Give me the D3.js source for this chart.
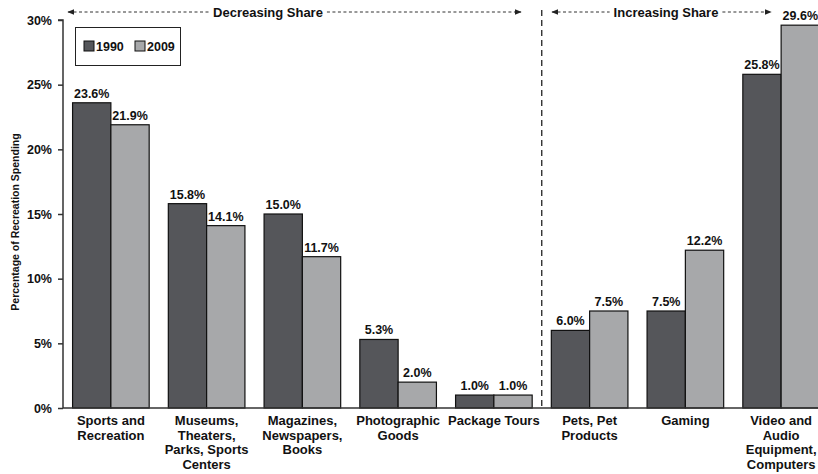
<!DOCTYPE html>
<html>
<head>
<meta charset="utf-8">
<script src="https://cdn.jsdelivr.net/npm/d3@7/dist/d3.min.js"></script>
<style>
  html, body { margin: 0; padding: 0; background: #fff; }
  svg { display: block; font-family: "Liberation Sans", Arial, sans-serif; font-weight: bold; }
</style>
</head>
<body>
<svg id="chart" width="818" height="474"></svg>
<script>
// Share of recreation spending by category
const categories = [
  ["Sports and", "Recreation"],
  ["Museums,", "Theaters,", "Parks, Sports", "Centers"],
  ["Magazines,", "Newspapers,", "Books"],
  ["Photographic", "Goods"],
  ["Package Tours"],
  ["Pets, Pet", "Products"],
  ["Gaming"],
  ["Video and", "Audio", "Equipment,", "Computers"]
];
const years = ["1990", "2009"];
const values1990 = [23.6, 15.8, 15.0, 5.3, 1.0, 6.0, 7.5, 25.8];
const values2009 = [21.9, 14.1, 11.7, 2.0, 1.0, 7.5, 12.2, 29.6];
const yTicks = [0, 5, 10, 15, 20, 25, 30];
const yLabel = "Percentage of Recreation Spending";
const groupLabels = ["Decreasing Share", "Increasing Share"];

const colors = { "1990": "#55565a", "2009": "#a7a8aa" };

const svg = d3.select("#chart");
const plotLeft = 63, plotRight = 829, plotTop = 20, plotBottom = 408;

const keys = categories.map(c => c.join(" "));
const x0 = d3.scaleBand().domain(keys).range([plotLeft, plotRight]).paddingInner(0.2).paddingOuter(0.1);
const x1 = d3.scaleBand().domain(years).range([0, x0.bandwidth()]);
const y = d3.scaleLinear().domain([0, 30]).range([plotBottom, plotTop]);

const rows = keys.map((k, i) => ({ key: k, lines: categories[i], v: { "1990": values1990[i], "2009": values2009[i] } }));

// bars with value labels
const g = svg.append("g");
rows.forEach(r => {
  years.forEach(yr => {
    const bx = x0(r.key) + x1(yr);
    g.append("rect")
      .attr("x", bx).attr("y", y(r.v[yr]))
      .attr("width", x1.bandwidth()).attr("height", plotBottom - y(r.v[yr]))
      .attr("fill", colors[yr]).attr("stroke", "#111").attr("stroke-width", 1.2);
    g.append("text")
      .attr("x", bx + x1.bandwidth() / 2).attr("y", y(r.v[yr]) - 5)
      .attr("text-anchor", "middle").attr("font-size", 12.5).attr("fill", "#111")
      .text(r.v[yr].toFixed(1) + "%");
  });
});

// y axis
const yAxis = d3.axisLeft(y).tickValues(yTicks).tickFormat(d => d + "%").tickSize(5).tickPadding(6);
const ya = svg.append("g").attr("transform", `translate(${plotLeft},0)`).call(yAxis);
ya.select(".domain").attr("stroke", "#333").attr("stroke-width", 1.5).attr("d", `M-5,${plotTop}H0V${plotBottom}`);
ya.selectAll(".tick line").attr("stroke", "#333").attr("stroke-width", 1.5);
ya.selectAll(".tick text").attr("font-size", 12.5).attr("font-weight", "bold").attr("fill", "#111")
  .attr("font-family", "Liberation Sans, Arial, sans-serif");

// baseline
svg.append("line").attr("x1", plotLeft).attr("x2", 818).attr("y1", plotBottom).attr("y2", plotBottom)
  .attr("stroke", "#333").attr("stroke-width", 1.5);

// category labels
rows.forEach(r => {
  const cx = x0(r.key) + x0.bandwidth() / 2;
  const t = svg.append("text").attr("text-anchor", "middle").attr("font-size", 13).attr("fill", "#111")
    .attr("x", cx).attr("y", plotBottom + 17);
  r.lines.forEach((ln, i) => t.append("tspan").attr("x", cx).attr("dy", i === 0 ? 0 : 14.5).text(ln));
});

// y label
svg.append("text").attr("transform", `translate(19,${(plotTop + plotBottom) / 2 + 8}) rotate(-90)`)
  .attr("text-anchor", "middle").attr("font-size", 10.5).attr("fill", "#111").text(yLabel);

// divider between decreasing and increasing share
const splitX = (x0(keys[4]) + x0.bandwidth() + x0(keys[5])) / 2;
svg.append("line").attr("x1", splitX).attr("x2", splitX).attr("y1", 10).attr("y2", plotBottom)
  .attr("stroke", "#222").attr("stroke-width", 1.3).attr("stroke-dasharray", "6,4");

// arrow annotations
const defs = svg.append("defs");
defs.append("marker").attr("id", "arr").attr("viewBox", "0 0 10 10").attr("refX", 9).attr("refY", 5)
  .attr("markerWidth", 7).attr("markerHeight", 7).attr("markerUnits", "userSpaceOnUse").attr("orient", "auto-start-reverse")
  .append("path").attr("d", "M0,1L10,5L0,9Z").attr("fill", "#222");

function annot(label, xa, xb, cx) {
  const t = svg.append("text").attr("x", cx).attr("y", 17).attr("text-anchor", "middle")
    .attr("font-size", 13).attr("fill", "#111").text(label);
  const w = t.node().getComputedTextLength();
  const ay = 12;
  svg.append("line").attr("x1", xa).attr("x2", cx - w / 2 - 4).attr("y1", ay).attr("y2", ay)
    .attr("stroke", "#333").attr("stroke-width", 1).attr("stroke-dasharray", "3,2.5").attr("marker-start", "url(#arr)");
  svg.append("line").attr("x1", cx + w / 2 + 4).attr("x2", xb).attr("y1", ay).attr("y2", ay)
    .attr("stroke", "#333").attr("stroke-width", 1).attr("stroke-dasharray", "3,2.5").attr("marker-end", "url(#arr)");
}
annot(groupLabels[0], 68, 521, 268);
annot(groupLabels[1], 552, 771, 666);

// legend
const lg = svg.append("g");
lg.append("rect").attr("x", 75.5).attr("y", 27.5).attr("width", 105).attr("height", 38)
  .attr("fill", "#fff").attr("stroke", "#222").attr("stroke-width", 1);
[[84, "1990"], [135, "2009"]].forEach(([lx, yr]) => {
  lg.append("rect").attr("x", lx).attr("y", 41).attr("width", 10).attr("height", 10)
    .attr("fill", colors[yr]).attr("stroke", "#111").attr("stroke-width", 1);
  lg.append("text").attr("x", lx + 12).attr("y", 51).attr("font-size", 12.5).attr("fill", "#111").text(yr);
});
</script>
</body>
</html>
